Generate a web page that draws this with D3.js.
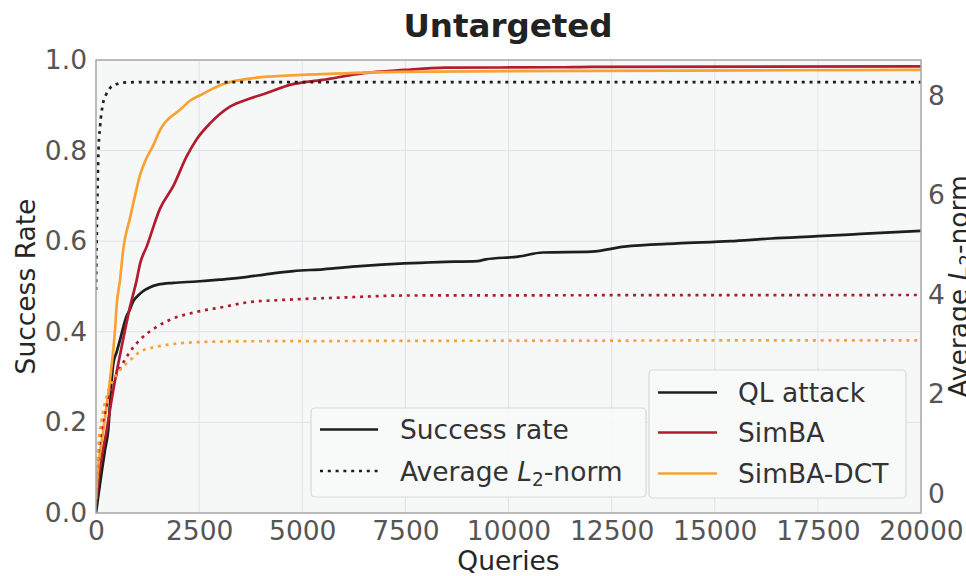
<!DOCTYPE html>
<html>
<head>
<meta charset="utf-8">
<script src="https://cdn.jsdelivr.net/npm/d3@7"></script>
<style>
  html, body { margin: 0; padding: 0; background: #ffffff; }
  svg { display: block; font-family: "DejaVu Sans", sans-serif; }
</style>
</head>
<body>
<svg id="chart" width="966" height="576"></svg>
<script>
// ---- data: [queries, value] ----
const qlSuccess = [[0,0],[60,0.04],[137,0.09],[220,0.14],[299,0.185],[360,0.27],[420,0.33],[500,0.355],[582,0.382],[660,0.41],[743,0.435],[800,0.445],[905,0.468],[1020,0.48],[1147,0.49],[1300,0.498],[1500,0.504],[1875,0.508],[2440,0.511],[3000,0.515],[3571,0.52],[4200,0.528],[4784,0.534],[5500,0.538],[6400,0.545],[7470,0.551],[8300,0.554],[9249,0.556],[9450,0.56],[10237,0.566],[10830,0.575],[12016,0.577],[12806,0.588],[14091,0.595],[15375,0.6],[16364,0.606],[17500,0.611],[18538,0.616],[20000,0.623]];
const simbaSuccess = [[0,0.02],[57,0.073],[259,0.183],[420,0.272],[622,0.367],[824,0.455],[986,0.514],[1067,0.55],[1228,0.588],[1552,0.672],[1875,0.722],[2198,0.787],[2440,0.825],[2764,0.86],[3248,0.897],[3733,0.915],[4137,0.927],[4703,0.945],[5494,0.956],[6482,0.971],[7470,0.978],[8458,0.983],[11225,0.984],[12000,0.985],[20000,0.986]];
const dctSuccess = [[0,0.03],[16,0.058],[178,0.183],[339,0.294],[461,0.404],[501,0.459],[582,0.514],[663,0.584],[824,0.651],[905,0.684],[1067,0.746],[1188,0.776],[1390,0.812],[1552,0.845],[1632,0.857],[2036,0.89],[2279,0.91],[2521,0.922],[3087,0.947],[3895,0.961],[4703,0.966],[5757,0.97],[7370,0.974],[12115,0.976],[20000,0.978]];

const qlNorm = [[0,4.1],[15,5.0],[35,6.0],[56,6.8],[100,7.4],[162,7.82],[240,8.02],[340,8.16],[450,8.22],[655,8.27],[1200,8.28],[20000,8.28]];
const simbaNorm = [[0,0.05],[40,0.6],[120,1.2],[250,1.75],[420,2.25],[600,2.55],[824,2.86],[1067,3.1],[1471,3.36],[1875,3.53],[2440,3.66],[3087,3.76],[3652,3.85],[4506,3.9],[6000,3.95],[7470,3.99],[20000,4.0]];
const dctNorm = [[0,0.05],[16,0.28],[57,0.95],[137,1.49],[259,1.96],[420,2.29],[582,2.49],[824,2.69],[1067,2.86],[1471,2.96],[2036,3.03],[2764,3.06],[3652,3.07],[20000,3.09]];

const methodNames = ["QL attack", "SimBA", "SimBA-DCT"];
const metricNames = ["Success rate", "Average L2-norm"];
const queryTicks = [0, 2500, 5000, 7500, 10000, 12500, 15000, 17500, 20000];
const rateTicks = [0.0, 0.2, 0.4, 0.6, 0.8, 1.0];
const normTicks = [0, 2, 4, 6, 8];

// ---- layout ----
const plot = { left: 96, right: 921, top: 60, bottom: 513 };
const colors = { "QL attack": "#1e1e1e", "SimBA": "#b31b2f", "SimBA-DCT": "#f9a233" };
const dotDash = "3,4.8";
const lineW = 2.7;
const tickFont = 26.5;

const svg = d3.select("#chart");

const x = d3.scaleLinear().domain([0, 20000]).range([plot.left, plot.right]);
const yRate = d3.scaleLinear().domain([0, 1]).range([plot.bottom, plot.top]);
const yNorm = d3.scaleLinear().domain([-0.382, 8.724]).range([plot.bottom, plot.top]);

// plot background
svg.append("rect")
  .attr("x", plot.left).attr("y", plot.top)
  .attr("width", plot.right - plot.left).attr("height", plot.bottom - plot.top)
  .attr("fill", "#f6f8f8");

svg.append("defs").append("clipPath").attr("id", "plot-clip")
  .append("rect")
  .attr("x", plot.left).attr("y", plot.top)
  .attr("width", plot.right - plot.left).attr("height", plot.bottom - plot.top);

// grid
const grid = svg.append("g").attr("stroke", "#dfe2e5").attr("stroke-width", 1);
grid.selectAll("line.v").data(queryTicks).join("line")
  .attr("x1", d => x(d)).attr("x2", d => x(d))
  .attr("y1", plot.top).attr("y2", plot.bottom);
grid.selectAll("line.h").data(rateTicks).join("line")
  .attr("x1", plot.left).attr("x2", plot.right)
  .attr("y1", d => yRate(d)).attr("y2", d => yRate(d));

// axes (labels only, no tick marks)
const xAxis = d3.axisBottom(x).tickValues(queryTicks).tickSize(0).tickPadding(8).tickFormat(d3.format("d"));
const gx = svg.append("g").attr("transform", `translate(0,${plot.bottom})`).call(xAxis);
const yAxisL = d3.axisLeft(yRate).tickValues(rateTicks).tickSize(0).tickPadding(9).tickFormat(d3.format(".1f"));
const gyl = svg.append("g").attr("transform", `translate(${plot.left},0)`).call(yAxisL);
const yAxisR = d3.axisRight(yNorm).tickValues(normTicks).tickSize(0).tickPadding(7).tickFormat(d3.format("d"));
const gyr = svg.append("g").attr("transform", `translate(${plot.right},0)`).call(yAxisR);
[gx, gyl, gyr].forEach(g => {
  g.select(".domain").remove();
  g.selectAll("text").attr("font-size", tickFont).attr("fill", "#555555")
    .attr("font-family", "DejaVu Sans, sans-serif");
});

// series lines: solid = success rate (left axis), dotted = average L2-norm (right axis)
const series = svg.append("g").attr("clip-path", "url(#plot-clip)").attr("fill", "none");

const rateSeries = [["QL attack", qlSuccess], ["SimBA", simbaSuccess], ["SimBA-DCT", dctSuccess]];
const normSeries = [["QL attack", qlNorm], ["SimBA", simbaNorm], ["SimBA-DCT", dctNorm]];

const rPath = d3.line().x(d => x(d[0])).y(d => yRate(d[1])).curve(d3.curveMonotoneX);
const nPath = d3.line().x(d => x(d[0])).y(d => yNorm(d[1])).curve(d3.curveMonotoneX);

series.selectAll("path.rate").data(rateSeries).join("path")
  .attr("class", "rate")
  .attr("d", d => rPath(d[1]))
  .attr("stroke", d => colors[d[0]])
  .attr("stroke-width", lineW)
  .attr("stroke-linejoin", "round");

series.selectAll("path.norm").data(normSeries).join("path")
  .attr("class", "norm")
  .attr("d", d => nPath(d[1]))
  .attr("stroke", d => colors[d[0]])
  .attr("stroke-width", lineW)
  .attr("stroke-dasharray", dotDash);

// frame
svg.append("rect")
  .attr("x", plot.left).attr("y", plot.top)
  .attr("width", plot.right - plot.left).attr("height", plot.bottom - plot.top)
  .attr("fill", "none").attr("stroke", "#a9a9a9").attr("stroke-width", 1.5);

// title and axis labels
svg.append("text")
  .attr("x", 508).attr("y", 37)
  .attr("text-anchor", "middle")
  .attr("font-size", 32.5).attr("font-weight", "bold").attr("fill", "#222222")
  .text("Untargeted");

svg.append("text")
  .attr("x", (plot.left + plot.right) / 2).attr("y", 570)
  .attr("text-anchor", "middle")
  .attr("font-size", tickFont).attr("fill", "#262626")
  .text("Queries");

svg.append("text")
  .attr("transform", `translate(35,${(plot.top + plot.bottom) / 2}) rotate(-90)`)
  .attr("text-anchor", "middle")
  .attr("font-size", tickFont).attr("fill", "#262626")
  .text("Success Rate");

function normLabel(sel) {
  sel.append("tspan").text("Average ");
  sel.append("tspan").attr("font-style", "italic").text("L");
  sel.append("tspan").attr("font-size", tickFont * 0.7).attr("dy", 5).text("2");
  sel.append("tspan").attr("dy", -5).text("-norm");
}

svg.append("text")
  .attr("transform", `translate(968,${(plot.top + plot.bottom) / 2}) rotate(-90)`)
  .attr("text-anchor", "middle")
  .attr("font-size", tickFont).attr("fill", "#262626")
  .call(normLabel);

// legends
function legendBox(x0, y0, w, h) {
  svg.append("rect")
    .attr("x", x0).attr("y", y0).attr("width", w).attr("height", h)
    .attr("rx", 4).attr("ry", 4)
    .attr("fill", "#f8f9f9").attr("fill-opacity", 0.9)
    .attr("stroke", "#d8d8d8").attr("stroke-width", 1.2);
}

// metric legend (line style)
legendBox(311, 408, 335, 89);
const metricRows = [
  { name: metricNames[0], dash: null, y: 429.5 },
  { name: metricNames[1], dash: dotDash, y: 471 }
];
const lg1 = svg.append("g");
metricRows.forEach(r => {
  lg1.append("line")
    .attr("x1", 320).attr("x2", 378).attr("y1", r.y).attr("y2", r.y)
    .attr("stroke", "#1e1e1e").attr("stroke-width", lineW)
    .attr("stroke-dasharray", r.dash);
  const t = lg1.append("text")
    .attr("x", 400).attr("y", r.y + 9.5)
    .attr("font-size", tickFont).attr("fill", "#333333");
  if (r.dash) t.call(normLabel); else t.text(r.name);
});

// method legend (colour)
legendBox(649, 370, 257, 128);
const lg2 = svg.append("g");
const methodRowY = [392.5, 432.5, 473.5];
methodNames.forEach((name, i) => {
  lg2.append("line")
    .attr("x1", 658).attr("x2", 717).attr("y1", methodRowY[i]).attr("y2", methodRowY[i])
    .attr("stroke", colors[name]).attr("stroke-width", lineW);
  lg2.append("text")
    .attr("x", 738).attr("y", methodRowY[i] + 9.5)
    .attr("font-size", tickFont).attr("fill", "#333333")
    .text(name);
});
</script>
</body>
</html>
